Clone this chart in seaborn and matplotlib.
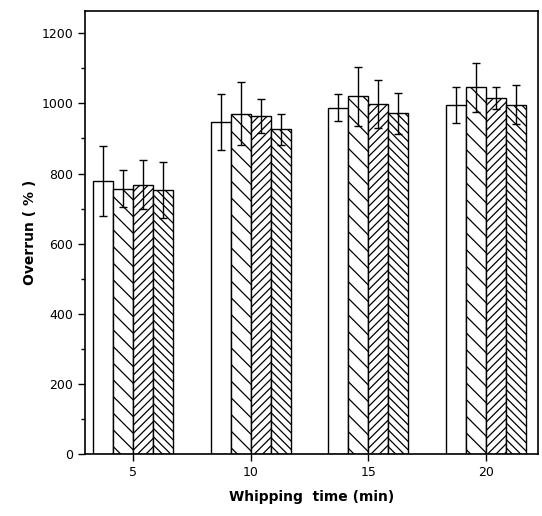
import matplotlib
matplotlib.use("Agg")
import matplotlib.pyplot as plt
from matplotlib.ticker import MultipleLocator
import seaborn as sns
import pandas as pd

# valeurs
times = ["5", "10", "15", "20"]
groups = ["A", "B", "C", "D"]
val_a = [778, 947, 988, 995]
val_b = [757, 971, 1021, 1046]
val_c = [768, 965, 999, 1015]
val_d = [752, 926, 972, 996]
err_a = [100, 81, 38, 51]
err_b = [52, 91, 84, 70]
err_c = [70, 49, 69, 32]
err_d = [80, 45, 58, 56]
hatches = ["", "\\" * 2, "/" * 4, "\\" * 4]

vals = [val_a, val_b, val_c, val_d]
errs = [err_a, err_b, err_c, err_d]
df = pd.DataFrame({
    "time": times * 4,
    "group": [g for g in groups for _ in times],
    "overrun": [v for s in vals for v in s],
})

sns.set_style("ticks")
plt.rcParams["font.family"] = ["DejaVu Sans"]
plt.rcParams["hatch.linewidth"] = 0.9

fig = plt.figure(figsize=(5.42, 5.16), dpi=100)
ax = fig.add_axes([0.157, 0.120, 0.836, 0.859])

sns.barplot(data=df, x="time", y="overrun", hue="group", order=times,
            hue_order=groups, width=0.68, errorbar=None, legend=False,
            color="white", edgecolor="black", linewidth=1.0, ax=ax)

for cont, h, e in zip(ax.containers, hatches, errs):
    xs = []
    ys = []
    for bar in cont:
        bar.set_facecolor("white")
        bar.set_edgecolor("black")
        bar.set_hatch(h)
        xs.append(bar.get_x() + bar.get_width() / 2)
        ys.append(bar.get_height())
    ax.errorbar(xs, ys, yerr=e, fmt="none", ecolor="black",
                elinewidth=1.0, capsize=3, capthick=1.0)

ax.set_ylim(0, 1264)
ax.set_xlim(-0.408, 3.443)
ax.yaxis.set_major_locator(MultipleLocator(200))
ax.yaxis.set_minor_locator(MultipleLocator(100))
ax.tick_params(axis="both", which="major", length=5, width=1, labelsize=9,
               direction="out", colors="black")
ax.tick_params(axis="y", which="minor", length=3, width=1, direction="out", colors="black")
for s in ax.spines.values():
    s.set_visible(True)
    s.set_linewidth(1.2)
    s.set_color("black")

ax.set_xlabel("Whipping  time (min)", fontsize=10, fontweight="bold", labelpad=8, color="black")
ax.set_ylabel("Overrun ( % )", fontsize=10, fontweight="bold", labelpad=3, color="black")

fig.savefig("out.png", dpi=100)
